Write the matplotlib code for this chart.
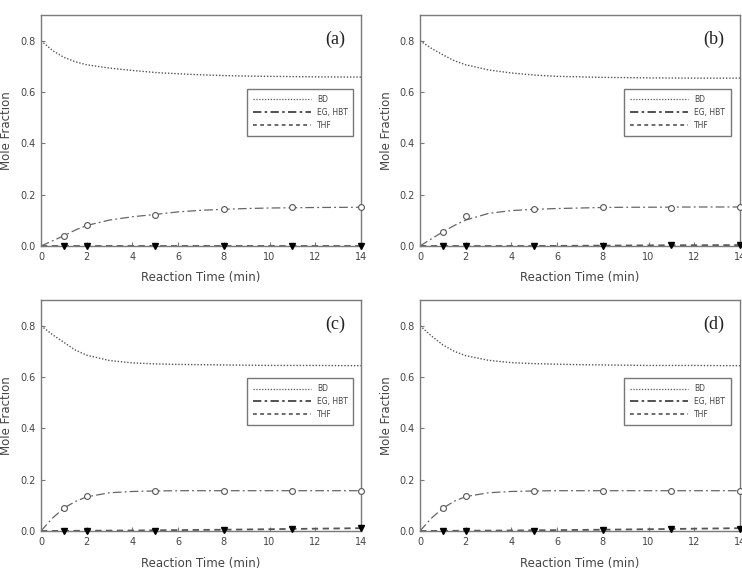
import matplotlib
matplotlib.use("Agg")
import matplotlib.pyplot as plt
from matplotlib.lines import Line2D

# ---- data ----
t_curve = [0, 0.5, 1, 1.5, 2, 3, 4, 5, 6, 7, 8, 9, 10, 12, 14]
t_data = [1, 2, 5, 8, 11, 14]
panels = ["(a)", "(b)", "(c)", "(d)"]

bd_curve = {
    "(a)": [0.800, 0.762, 0.735, 0.718, 0.706, 0.693, 0.684, 0.676, 0.671, 0.667, 0.664, 0.662, 0.661, 0.659, 0.658],
    "(b)": [0.800, 0.770, 0.745, 0.722, 0.706, 0.686, 0.674, 0.666, 0.661, 0.659, 0.657, 0.656, 0.655, 0.654, 0.654],
    "(c)": [0.800, 0.765, 0.735, 0.705, 0.685, 0.664, 0.655, 0.651, 0.649, 0.648, 0.647, 0.646, 0.645, 0.645, 0.644],
    "(d)": [0.800, 0.760, 0.725, 0.700, 0.683, 0.665, 0.656, 0.652, 0.650, 0.648, 0.647, 0.646, 0.645, 0.645, 0.644],
}
eg_curve = {
    "(a)": [0, 0.020, 0.040, 0.062, 0.080, 0.101, 0.114, 0.123, 0.133, 0.139, 0.143, 0.146, 0.148, 0.150, 0.151],
    "(b)": [0, 0.028, 0.055, 0.080, 0.101, 0.127, 0.138, 0.143, 0.146, 0.148, 0.150, 0.151, 0.151, 0.152, 0.152],
    "(c)": [0, 0.050, 0.089, 0.115, 0.133, 0.149, 0.154, 0.156, 0.157, 0.157, 0.157, 0.157, 0.157, 0.157, 0.157],
    "(d)": [0, 0.050, 0.089, 0.116, 0.134, 0.149, 0.154, 0.156, 0.157, 0.157, 0.157, 0.157, 0.157, 0.157, 0.157],
}
thf_curve = {
    "(a)": [0, 0, 0, 0, 0, 0, 0, 0, 0, 0, 0, 0, 0, 0, 0],
    "(b)": [0, 0, 0, 0, 0, 0, 0, 0, 0.0005, 0.001, 0.0015, 0.002, 0.0025, 0.003, 0.0035],
    "(c)": [0, 0.0002, 0.0005, 0.0008, 0.001, 0.0015, 0.002, 0.0028, 0.0035, 0.0043, 0.005, 0.006, 0.007, 0.009, 0.011],
    "(d)": [0, 0.0002, 0.0005, 0.0008, 0.001, 0.0015, 0.002, 0.0028, 0.0035, 0.0043, 0.005, 0.006, 0.007, 0.009, 0.011],
}
eg_data = {
    "(a)": [0.040, 0.082, 0.121, 0.143, 0.151, 0.151],
    "(b)": [0.053, 0.117, 0.144, 0.152, 0.150, 0.152],
    "(c)": [0.089, 0.136, 0.157, 0.156, 0.154, 0.157],
    "(d)": [0.089, 0.136, 0.157, 0.156, 0.154, 0.156],
}
thf_data = {
    "(a)": [0, 0, 0, 0, 0, 0],
    "(b)": [0, 0, 0, 0, 0.003, 0.003],
    "(c)": [0, 0, 0.001, 0.002, 0.006, 0.010],
    "(d)": [0, 0, 0.001, 0.002, 0.006, 0.009],
}
legend_labels = ["BD", "EG, HBT", "THF"]
x_ticks = [0, 2, 4, 6, 8, 10, 12, 14]
y_ticks = [0.0, 0.2, 0.4, 0.6, 0.8]

# ---- layout ----
W, H = 742, 569
fig = plt.figure(figsize=(W / 100, H / 100), dpi=100)
boxes = {
    "(a)": (41, 15, 361, 246),
    "(b)": (420, 15, 740, 246),
    "(c)": (41, 300, 361, 531),
    "(d)": (420, 300, 740, 531),
}
leg_pos = {
    "(a)": (0.644, 0.472, 0.331, 0.208),
    "(b)": (0.638, 0.472, 0.335, 0.208),
    "(c)": (0.644, 0.450, 0.331, 0.212),
    "(d)": (0.638, 0.450, 0.335, 0.212),
}

spine_c = "#7a7a7a"
text_c = "#444444"
BD_LS = (0, (1, 1.3))
EG_LS = (0, (7, 2.5, 1.5, 2.5))
THF_LS = (0, (3.5, 2.5))

for p in panels:
    l, t, r, b = boxes[p]
    ax = fig.add_axes([l / W, 1 - b / H, (r - l) / W, (b - t) / H])
    ax.plot(t_curve, bd_curve[p], color="#555555", ls=BD_LS, lw=1.0)
    ax.plot(t_curve, eg_curve[p], color="#666666", ls=EG_LS, lw=0.9)
    ax.plot(t_curve, thf_curve[p], color="#555555", ls=THF_LS, lw=1.3)
    ax.plot(t_data, eg_data[p], ls="none", marker="o", ms=4.2, mfc="white",
            mec="#555555", mew=0.8, clip_on=False, zorder=5)
    ax.plot(t_data, thf_data[p], ls="none", marker="v", ms=4.2, mfc="black",
            mec="black", clip_on=False, zorder=5)

    ax.set_xlim(0, 14)
    ax.set_ylim(0, 0.9)
    ax.set_xticks(x_ticks)
    ax.set_yticks(y_ticks)
    ax.set_yticklabels([f"{v:.1f}" for v in y_ticks])
    ax.tick_params(direction="in", length=3, width=0.8, colors=spine_c,
                   labelcolor=text_c, labelsize=7, pad=4)
    for s in ax.spines.values():
        s.set_color(spine_c)
        s.set_linewidth(1.0)
    xl = ax.set_xlabel("Reaction Time (min)", fontsize=8.5, color=text_c)
    xl.set_va("center")
    ax.xaxis.set_label_coords(0.5, -32 / 231)
    yl = ax.set_ylabel("Mole Fraction", fontsize=8.5, color=text_c)
    yl.set_va("center")
    ax.yaxis.set_label_coords(-34 / 320, 0.5)

    ax.text(0.95, 0.93, p, transform=ax.transAxes, ha="right", va="top",
            fontsize=13, family="Liberation Serif", color="#222222")

    handles = [
        Line2D([], [], color="#555555", ls=BD_LS, lw=0.9),
        Line2D([], [], color="#333333", ls=(0, (5, 2, 1.5, 2)), lw=1.2),
        Line2D([], [], color="#444444", ls=(0, (2.5, 2.2)), lw=1.1),
    ]
    leg = ax.legend(handles, legend_labels, loc="upper left",
                    bbox_to_anchor=leg_pos[p], mode="expand",
                    fontsize=5.5, handlelength=7.6, handletextpad=0.8,
                    labelspacing=0.5, borderpad=0.8, fancybox=False,
                    frameon=True, borderaxespad=0)
    fr = leg.get_frame()
    fr.set_edgecolor("#555555")
    fr.set_linewidth(1.0)
    for txt in leg.get_texts():
        txt.set_color(text_c)

fig.savefig("out.png", dpi=100)
